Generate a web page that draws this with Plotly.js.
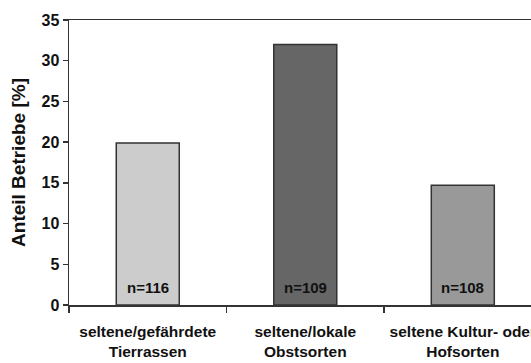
<!DOCTYPE html>
<html>
<head>
<meta charset="utf-8">
<script src="https://cdn.plot.ly/plotly-3.0.1.min.js"></script>
<style>html,body{margin:0;padding:0;background:#fff;}#chart{width:531px;height:363px;}</style>
</head>
<body>
<div id="chart"></div>
<script>
const categories = ["seltene/gefährdete<br>Tierrassen", "seltene/lokale<br>Obstsorten", "seltene Kultur- oder<br>Hofsorten"];
const shares = [19.9, 32.0, 14.7];
const nLabels = ["n=116", "n=109", "n=108"];
const barColors = ["#cccccc", "#666666", "#999999"];
const yTicks = [0, 5, 10, 15, 20, 25, 30, 35];

const sans = "'Liberation Sans', Arial, sans-serif";

const trace = {
  type: "bar",
  x: categories,
  y: shares,
  width: 0.4,
  marker: {color: barColors, line: {color: "#333333", width: 1.5}},
  hoverinfo: "none"
};

const annotations = categories.map((c, i) => ({
  x: c, y: 0, xref: "x", yref: "y",
  text: "<b>" + nLabels[i] + "</b>",
  showarrow: false, yanchor: "bottom", yshift: 7,
  font: {family: sans, size: 15, color: "#111"}
}));

const layout = {
  width: 531, height: 363,
  margin: {l: 69, r: 0, t: 20, b: 58},
  paper_bgcolor: "#fff", plot_bgcolor: "#fff",
  showlegend: false,
  font: {family: sans, color: "#111"},
  xaxis: {
    type: "category",
    range: [-0.5, 2.433],
    tickson: "boundaries",
    tickangle: 0,
    ticks: "outside", ticklen: 6, tickcolor: "#333", tickwidth: 1.5,
    ticklabelstandoff: 12,
    showline: true, linecolor: "#333", linewidth: 1.5, mirror: true,
    showgrid: false, zeroline: false,
    tickfont: {family: sans, size: 15.5, color: "#111", weight: "bold"}
  },
  yaxis: {
    range: [0, 35],
    tickmode: "array", tickvals: yTicks, ticktext: yTicks.map(String),
    ticks: "outside", ticklen: 5, tickcolor: "#333", tickwidth: 1.5,
    showline: true, linecolor: "#333", linewidth: 1.5,
    showgrid: false, zeroline: false,
    tickfont: {family: sans, size: 16, color: "#111", weight: "bold"},
    title: {text: "<b>Anteil Betriebe [%]</b>", font: {family: sans, size: 19, color: "#111"}, standoff: 11}
  },
  annotations: annotations
};

Plotly.newPlot("chart", [trace], layout, {displayModeBar: false, staticPlot: true});
</script>
</body>
</html>
